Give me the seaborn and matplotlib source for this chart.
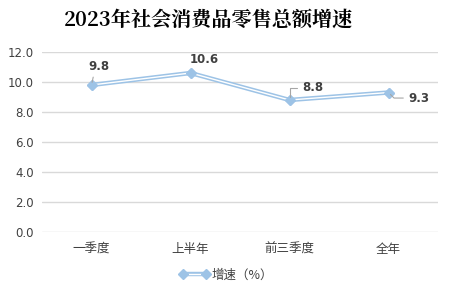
import matplotlib
matplotlib.use("Agg")
import matplotlib.pyplot as plt
import seaborn as sns
import pandas as pd
from matplotlib.lines import Line2D

categories = ["一季度", "上半年", "前三季度", "全年"]
values = [9.8, 10.6, 8.8, 9.3]
series_name = "增速（%）"
title = "2023年社会消费品零售总额增速"
yticks = [0.0, 2.0, 4.0, 6.0, 8.0, 10.0, 12.0]

sns.set_theme(style="white")
plt.rcParams['font.family'] = ['Noto Sans CJK SC', 'DejaVu Sans']

df = pd.DataFrame({"cat": categories, "val": values})
df["x"] = range(len(df))

fig = plt.figure(figsize=(4.52, 2.95), dpi=100)
ax = fig.add_axes([42/452, 1-232/295, (438-42)/452, (232-52)/295])

blue = "#9DC3E6"
sns.lineplot(data=df, x="x", y="val", ax=ax, color=blue, lw=3.2, marker="D",
             markersize=5.5, markeredgecolor=blue, markerfacecolor=blue, zorder=3)
ax.plot(df["x"], df["val"], color="white", lw=1.0, zorder=4)
ax.plot(df["x"], df["val"], ls="none", marker="D", ms=5.5, color=blue, zorder=5)

ax.set_xlim(-0.5, 3.5)
ax.set_ylim(0, 12)
ax.set_yticks(yticks)
ax.set_yticklabels([f"{t:.1f}" for t in yticks], fontsize=8.5, color="#404040",
                   family=['DejaVu Sans'])
ax.set_xticks(df["x"])
ax.set_xticklabels(categories, fontsize=9, color="#404040")
ax.set_xlabel("")
ax.set_ylabel("")
ax.grid(axis="y", color="#D9D9D9", lw=1)
ax.set_axisbelow(True)
for s in ax.spines.values():
    s.set_visible(False)
ax.tick_params(axis="x", length=0, pad=8)
ax.tick_params(axis="y", length=0, pad=6)

# data labels
lab_kw = dict(fontsize=8.5, fontweight="bold", color="#404040", family=['DejaVu Sans'],
              textcoords="offset points", zorder=6)
leader = dict(arrowstyle="-", color="#A6A6A6", lw=0.8, shrinkA=1, shrinkB=2)
ax.annotate(f"{values[0]}", xy=(0, values[0]), xytext=(5, 9), ha="center", va="bottom",
            arrowprops=dict(**leader, relpos=(0.3, 0.0)), **lab_kw)
ax.annotate(f"{values[1]}", xy=(1, values[1]), xytext=(10, 5), ha="center", va="bottom", **lab_kw)
ax.annotate(f"{values[2]}", xy=(2, values[2]), xytext=(9, 9), ha="left", va="center",
            arrowprops=dict(**leader, relpos=(0.0, 0.5),
                            connectionstyle="angle,angleA=0,angleB=90,rad=0"), **lab_kw)
ax.annotate(f"{values[3]}", xy=(3, values[3]), xytext=(14, -4), ha="left", va="center",
            arrowprops=dict(**leader, relpos=(0.0, 0.5),
                            connectionstyle="angle,angleA=0,angleB=-45,rad=0"), **lab_kw)

fig.text(208/452, 1-20/295, title, ha="center", va="center", fontsize=14.5, fontweight="bold",
         color="#000000", family=['Noto Serif CJK SC', 'Noto Sans CJK SC', 'DejaVu Sans'])

h_line = Line2D([0], [0], color=blue, lw=3.2)
h_white = Line2D([0], [0], color="white", lw=1.0)
h_mark = Line2D([0], [0], color=blue, ls="none", marker="D", ms=5.5)
fig.legend([(h_line, h_white, h_mark)], [series_name], loc="center",
           bbox_to_anchor=(0.5, 1-275/295), numpoints=2,
           frameon=False, fontsize=9, handlelength=2.5, handletextpad=0.1,
           labelcolor="#404040")

fig.savefig("out.png", dpi=100)
